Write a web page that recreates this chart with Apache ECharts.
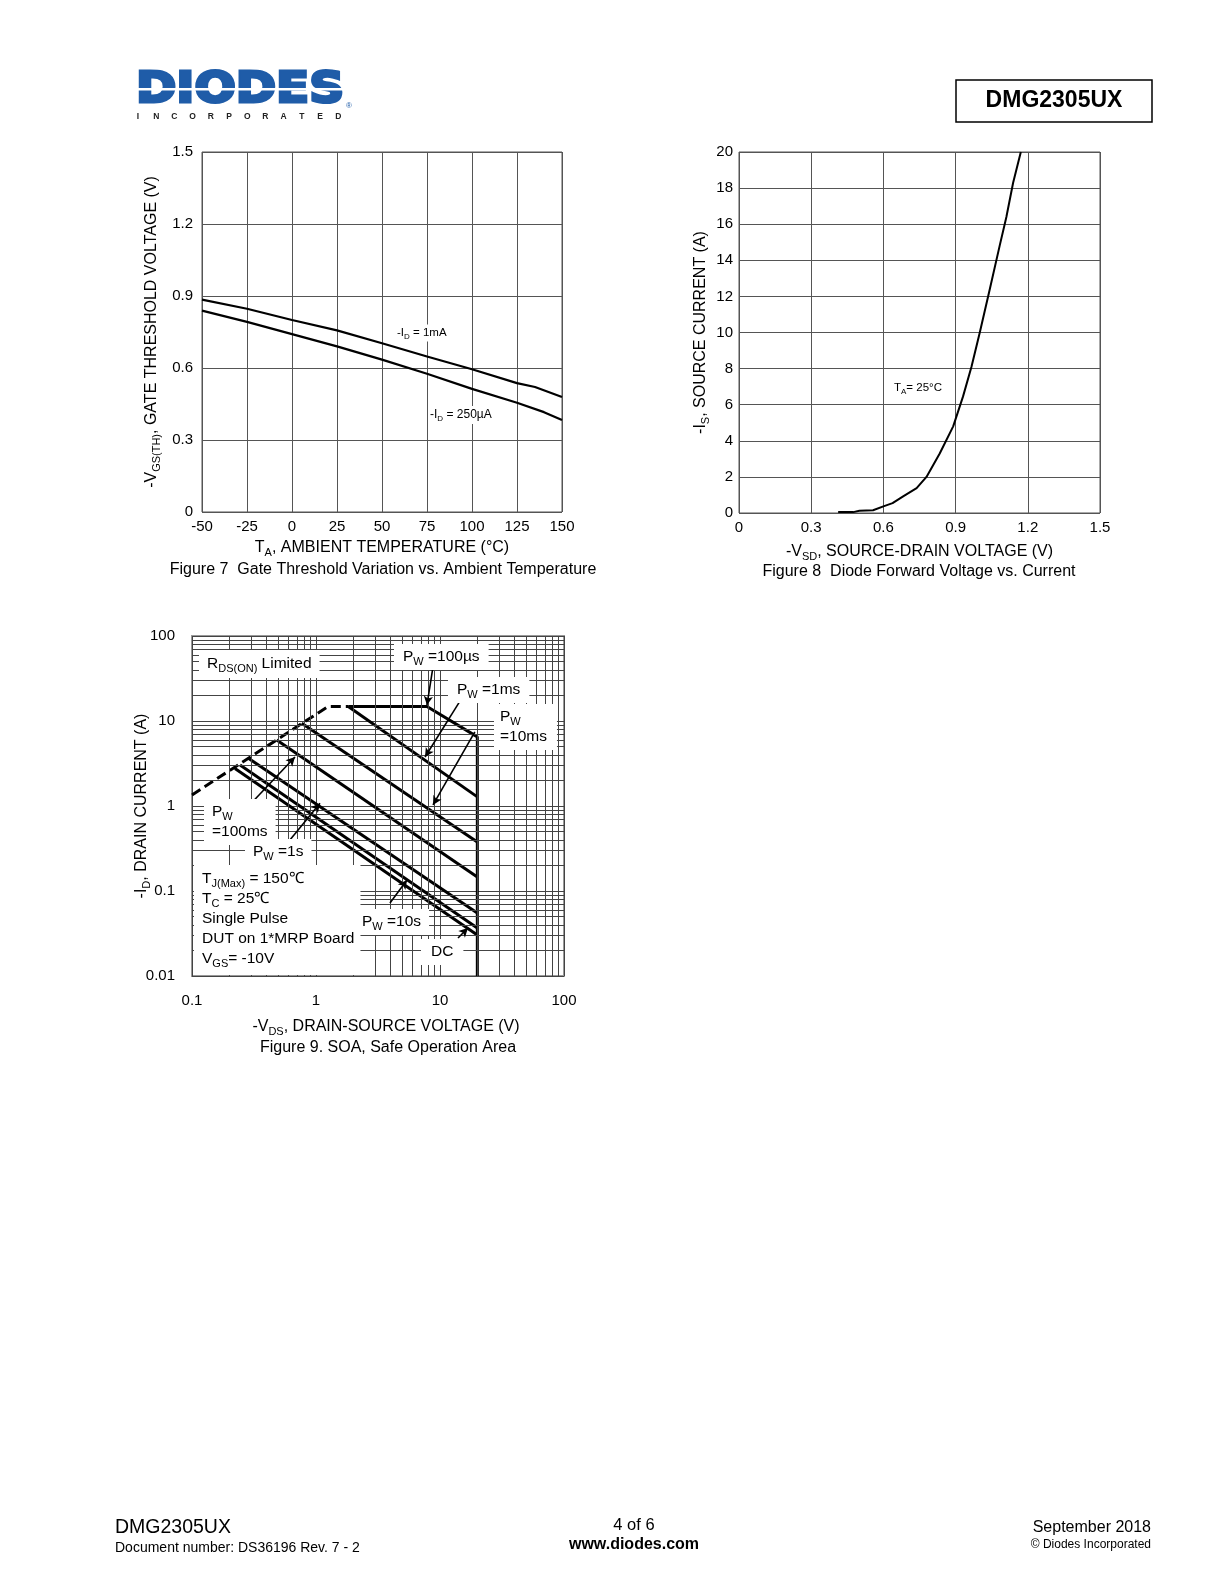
<!DOCTYPE html>
<html><head><meta charset="utf-8">
<script src="https://cdn.jsdelivr.net/npm/echarts@6/dist/echarts.min.js"></script>
<style>html,body{margin:0;padding:0;background:#fff}#c{width:1224px;height:1584px}</style>
</head><body><div id="c"></div>
<script>
const FONT = '"Liberation Sans", Arial, Helvetica, sans-serif';

// ---------- Figure 7: gate threshold vs temperature ----------
const vth1mA = [[-50,0.885],[-25,0.847],[0,0.800],[25,0.757],[50,0.703],[75,0.648],[100,0.595],[125,0.537],[135,0.521],[150,0.479]];
const vth250uA = [[-50,0.839],[-25,0.792],[0,0.741],[25,0.690],[50,0.635],[75,0.576],[100,0.513],[125,0.455],[140,0.416],[150,0.383]];

// ---------- Figure 8: diode forward voltage vs current ----------
const vsdV = [0.412,0.475,0.500,0.557,0.600,0.638,0.682,0.738,0.779,0.834,0.890,0.931,0.966,1.000,1.042,1.083,1.111,1.139,1.171];
const isA  = [0.05,0.05,0.13,0.15,0.37,0.55,0.92,1.38,2.0,3.3,4.8,6.46,8.1,9.97,12.4,14.8,16.4,18.3,20];

// ---------- Figure 9: SOA ----------
const rdsLimit = [[0.1,1.35],[1.25,14.8],[1.82,14.8]];
const pw100us = [[1.82,14.8],[7.85,14.8],[20,6.5],[20,0.01]];
const pw1ms   = [[1.82,14.8],[20,1.28]];
const pw10ms  = [[0.767,9.4],[20,0.377]];
const pw100ms = [[0.482,5.97],[20,0.146]];
const pw1s    = [[0.285,3.64],[20,0.055]];
const pw10s   = [[0.244,3.03],[20,0.0367]];
const pwDC    = [[0.222,2.77],[20,0.0303]];
const soaXMinor = [0.2,0.3,0.4,0.5,0.6,0.7,0.8,0.9,2,3,4,5,6,7,8,9,20,30,40,50,60,70,80,90];
const soaYMinor = [0.02,0.03,0.04,0.05,0.06,0.07,0.08,0.09,0.2,0.3,0.4,0.5,0.6,0.7,0.8,0.9,2,3,4,5,6,7,8,9,20,30,40,50,60,70,80,90];
// annotation arrows [from, to] in data units
const soaArrows = [
  [[8.78,43.2],[7.85,15.4]],
  [[15.0,18.6],[7.57,3.77]],
  [[19.1,7.43],[8.78,1.03]],
  [[0.2576,0.85],[0.677,3.77]],
  [[0.616,0.398],[1.077,1.08]],
  [[3.95,0.0723],[5.42,0.1346]],
  [[13.97,0.028],[16.8,0.0367]]
];

function rich(sz) {
  const sub = Math.round(sz * 0.68);
  return {
    n: {fontSize: sz, lineHeight: Math.round(sz * 1.3), fontFamily: FONT, color: '#000', fill: '#000'},
    s: {fontSize: sub, lineHeight: sub, verticalAlign: 'bottom', fontFamily: FONT, color: '#000', fill: '#000'}
  };
}
function label(x, y, text, sz, opts) {
  opts = opts || {};
  return {
    type: 'text', x: x, y: y, z: 100,
    style: Object.assign({
      text: text, rich: rich(sz), fill: '#000', fontFamily: FONT, fontSize: sz,
      align: 'left', verticalAlign: 'middle'
    }, opts)
  };
}
function plain(x, y, text, font, align, color) {
  return {type: 'text', x: x, y: y, z: 100,
    style: {text: text, font: font, fill: color || '#000', align: align || 'left', verticalAlign: 'middle'}};
}

const gridColor = '#555';
const tickLabel = {color: '#000', fontSize: 15, fontFamily: FONT};
const LOGO = '#1f5ca8';

const graphics = [];
// logo
graphics.push({type: 'text', x: 136, y: 91, z: 100, scaleX: 1.13,
  style: {text: 'DIODES', font: 'bold 43px "DejaVu Sans", sans-serif', fill: LOGO, stroke: LOGO, lineWidth: 3, align: 'left', verticalAlign: 'middle'}});
graphics.push({type: 'rect', z: 101, shape: {x: 132, y: 88, width: 214, height: 2.5}, style: {fill: '#fff'}});
graphics.push(plain(346, 106, '®', '8px ' + FONT, 'left', LOGO));
'INCORPORATED'.split('').forEach(function (ch, i) {
  graphics.push(plain(138 + i * 18.2, 117, ch, 'bold 8.5px ' + FONT, 'center', '#222'));
});
// part number box
graphics.push({type: 'rect', z: 100, shape: {x: 956, y: 80, width: 196, height: 42}, style: {fill: 'none', stroke: '#000', lineWidth: 1.5}});
graphics.push(plain(1054, 101, 'DMG2305UX', 'bold 23px ' + FONT, 'center'));
// footer
graphics.push(plain(115, 1528, 'DMG2305UX', '19.5px ' + FONT));
graphics.push(plain(115, 1548, 'Document number: DS36196 Rev. 7 - 2', '14px ' + FONT));
graphics.push(plain(634, 1525, '4 of 6', '16.5px ' + FONT, 'center'));
graphics.push(plain(634, 1545, 'www.diodes.com', 'bold 16px ' + FONT, 'center'));
graphics.push(plain(1151, 1528, 'September 2018', '16px ' + FONT, 'right'));
graphics.push(plain(1151, 1545, '© Diodes Incorporated', '12px ' + FONT, 'right'));
// captions
graphics.push(plain(383, 570, 'Figure 7  Gate Threshold Variation vs. Ambient Temperature', '16px ' + FONT, 'center'));
graphics.push(plain(919, 572, 'Figure 8  Diode Forward Voltage vs. Current', '16px ' + FONT, 'center'));
graphics.push(plain(388, 1048, 'Figure 9. SOA, Safe Operation Area', '16px ' + FONT, 'center'));
// fig 7 labels
graphics.push(label(395, 333, '{n|-I}{s|D}{n| = 1mA}', 11.5, {backgroundColor: '#fff', padding: [1, 2]}));
graphics.push(label(428, 415, '{n|-I}{s|D}{n| = 250µA}', 12, {backgroundColor: '#fff', padding: [1, 2]}));
// fig 8 label
graphics.push(label(894, 388, '{n|T}{s|A}{n|= 25°C}', 11.5));
// fig 9 labels
graphics.push(label(199, 664, '{n|R}{s|DS(ON)}{n| Limited}', 15.5, {backgroundColor: '#fff', padding: [4, 8, 4, 8]}));
graphics.push(label(394, 657, '{n|P}{s|W}{n| =100µs}', 15.5, {backgroundColor: '#fff', padding: [3, 9, 3, 9]}));
graphics.push(label(448, 690, '{n|P}{s|W}{n| =1ms}', 15.5, {backgroundColor: '#fff', padding: [3, 9, 3, 9]}));
graphics.push(label(494, 727, '{n|P}{s|W}\n{n|=10ms}', 15.5, {backgroundColor: '#fff', padding: [3, 10, 3, 6]}));
graphics.push(label(204, 822, '{n|P}{s|W}\n{n|=100ms}', 15.5, {backgroundColor: '#fff', padding: [3, 8, 3, 8]}));
graphics.push(label(245, 852, '{n|P}{s|W}{n| =1s}', 15.5, {backgroundColor: '#fff', padding: [3, 8, 3, 8]}));
graphics.push(label(194, 920, '{n|T}{s|J(Max)}{n| = 150℃}\n{n|T}{s|C}{n| = 25℃}\n{n|Single Pulse}\n{n|DUT on 1*MRP Board}\n{n|V}{s|GS}{n|= -10V}', 15.5, {backgroundColor: '#fff', padding: [4, 6, 6, 8], lineHeight: 20}));
graphics.push(label(354, 922, '{n|P}{s|W}{n| =10s}', 15.5, {backgroundColor: '#fff', padding: [3, 8, 3, 8]}));
graphics.push(label(421, 952, '{n|DC}', 15.5, {backgroundColor: '#fff', padding: [3, 10, 3, 10]}));

const option = {
  animation: false,
  backgroundColor: '#fff',
  textStyle: {fontFamily: FONT},
  grid: [
    {left: 202, top: 152, width: 360, height: 360, show: true, borderColor: gridColor, borderWidth: 1},
    {left: 739, top: 152, width: 361, height: 361, show: true, borderColor: gridColor, borderWidth: 1},
    {left: 192, top: 636, width: 372, height: 340, show: true, borderColor: '#999', borderWidth: 2}
  ],
  xAxis: [
    {gridIndex: 0, type: 'value', min: -50, max: 150, interval: 25,
     axisLine: {show: false}, axisTick: {show: false},
     splitLine: {show: true, lineStyle: {color: gridColor, width: 1}},
     axisLabel: Object.assign({margin: 7}, tickLabel),
     name: '{n|T}{s|A}{n|, AMBIENT TEMPERATURE (°C)}', nameLocation: 'middle', nameGap: 25,
     nameTextStyle: {rich: rich(16)}},
    {gridIndex: 1, type: 'value', min: 0, max: 1.5, interval: 0.3,
     axisLine: {show: false}, axisTick: {show: false},
     splitLine: {show: true, lineStyle: {color: gridColor, width: 1}},
     axisLabel: Object.assign({margin: 7}, tickLabel),
     name: '{n|-V}{s|SD}{n|, SOURCE-DRAIN VOLTAGE (V)}', nameLocation: 'middle', nameGap: 28,
     nameTextStyle: {rich: rich(16)}},
    {gridIndex: 2, type: 'log', logBase: 10, min: 0.1, max: 100,
     axisLine: {show: false}, axisTick: {show: false},
     splitLine: {show: true, lineStyle: {color: '#444', width: 1}},
     axisLabel: Object.assign({margin: 17, formatter: function (v) { return String(Number(v.toPrecision(3))); }}, tickLabel),
     name: '{n|-V}{s|DS}{n|, DRAIN-SOURCE VOLTAGE (V)}', nameLocation: 'middle', nameGap: 40,
     nameTextStyle: {rich: rich(16), padding: [0, 0, 0, 16]}}
  ],
  yAxis: [
    {gridIndex: 0, type: 'value', min: 0, max: 1.5, interval: 0.3,
     axisLine: {show: false}, axisTick: {show: false},
     splitLine: {show: true, lineStyle: {color: gridColor, width: 1}},
     axisLabel: Object.assign({margin: 9}, tickLabel),
     name: '{n|-V}{s|GS(TH)}{n|, GATE THRESHOLD VOLTAGE (V)}', nameLocation: 'middle', nameGap: 40,
     nameTextStyle: {rich: rich(16)}},
    {gridIndex: 1, type: 'value', min: 0, max: 20, interval: 2,
     axisLine: {show: false}, axisTick: {show: false},
     splitLine: {show: true, lineStyle: {color: gridColor, width: 1}},
     axisLabel: Object.assign({margin: 6}, tickLabel),
     name: '{n|-I}{s|S}{n|, SOURCE CURRENT (A)}', nameLocation: 'middle', nameGap: 28,
     nameTextStyle: {rich: rich(16)}},
    {gridIndex: 2, type: 'log', logBase: 10, min: 0.01, max: 100,
     axisLine: {show: false}, axisTick: {show: false},
     splitLine: {show: true, lineStyle: {color: '#444', width: 1}},
     axisLabel: Object.assign({margin: 17, formatter: function (v) { return String(Number(v.toPrecision(3))); }}, tickLabel),
     name: '{n|-I}{s|D}{n|, DRAIN CURRENT (A)}', nameLocation: 'middle', nameGap: 40, nameMoveOverlap: false,
     nameTextStyle: {rich: rich(16)}}
  ],
  series: [
    {type: 'line', xAxisIndex: 0, yAxisIndex: 0, data: vth1mA, showSymbol: false, symbol: 'none',
     lineStyle: {color: '#000', width: 2.2}},
    {type: 'line', xAxisIndex: 0, yAxisIndex: 0, data: vth250uA, showSymbol: false, symbol: 'none',
     lineStyle: {color: '#000', width: 2.2}},
    {type: 'line', xAxisIndex: 1, yAxisIndex: 1, data: vsdV.map(function (v, i) { return [v, isA[i]]; }),
     showSymbol: false, symbol: 'none', lineStyle: {color: '#000', width: 2}},
    {type: 'line', xAxisIndex: 2, yAxisIndex: 2, data: [[0.1, 0.01]], symbol: 'none', z: 1,
     lineStyle: {opacity: 0},
     markLine: {silent: true, symbol: ['none', 'none'], animation: false, label: {show: false},
       lineStyle: {color: '#444', width: 1, type: 'solid'},
       data: soaXMinor.map(function (v) { return {xAxis: v}; }).concat(soaYMinor.map(function (v) { return {yAxis: v}; }))}},
    {type: 'line', xAxisIndex: 2, yAxisIndex: 2, data: rdsLimit, symbol: 'none', z: 3,
     lineStyle: {color: '#000', width: 3, type: [10, 5]}},
    {type: 'line', xAxisIndex: 2, yAxisIndex: 2, data: pw100us, symbol: 'none', z: 3, lineStyle: {color: '#000', width: 3}},
    {type: 'line', xAxisIndex: 2, yAxisIndex: 2, data: pw1ms, symbol: 'none', z: 3, lineStyle: {color: '#000', width: 3}},
    {type: 'line', xAxisIndex: 2, yAxisIndex: 2, data: pw10ms, symbol: 'none', z: 3, lineStyle: {color: '#000', width: 3}},
    {type: 'line', xAxisIndex: 2, yAxisIndex: 2, data: pw100ms, symbol: 'none', z: 3, lineStyle: {color: '#000', width: 3}},
    {type: 'line', xAxisIndex: 2, yAxisIndex: 2, data: pw1s, symbol: 'none', z: 3, lineStyle: {color: '#000', width: 3}},
    {type: 'line', xAxisIndex: 2, yAxisIndex: 2, data: pw10s, symbol: 'none', z: 3, lineStyle: {color: '#000', width: 3}},
    {type: 'line', xAxisIndex: 2, yAxisIndex: 2, data: pwDC, symbol: 'none', z: 3, lineStyle: {color: '#000', width: 3}},
    {type: 'line', xAxisIndex: 2, yAxisIndex: 2, data: [[0.1, 0.01]], symbol: 'none', z: 4,
     lineStyle: {opacity: 0},
     markLine: {silent: true, symbol: ['none', 'arrow'], symbolSize: [7, 9], animation: false, label: {show: false},
       lineStyle: {color: '#000', width: 1.6, type: 'solid'},
       data: soaArrows.map(function (a) { return [{coord: a[0]}, {coord: a[1]}]; })}}
  ],
  graphic: graphics
};
const chart = echarts.init(document.getElementById('c'), null, {renderer: 'canvas', width: 1224, height: 1584});
chart.setOption(option);
</script>
</body></html>
